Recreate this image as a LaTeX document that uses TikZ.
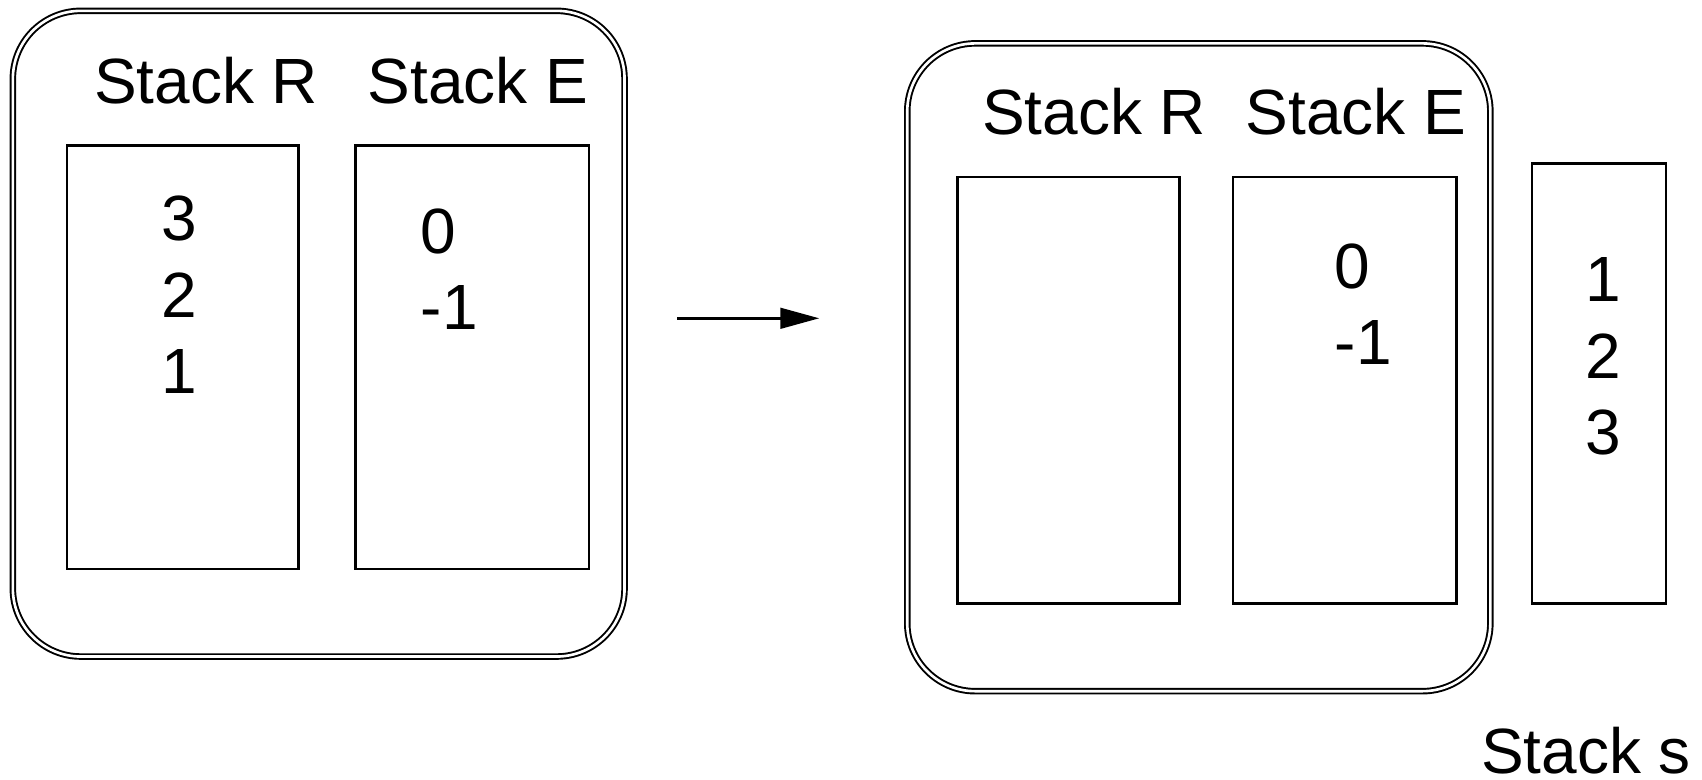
\documentclass[tikz,border=0pt]{standalone}
\usepackage{fontspec}
\setmainfont{Liberation Sans}
\usetikzlibrary{positioning,arrows.meta}

\begin{document}
\begin{tikzpicture}[>={Triangle[length=0.39cm,width=0.206cm]},
  font=\fontsize{18.2}{21.9}\selectfont,
  frame/.style={draw,line width=0.55pt,double,double distance=0.75pt,rounded corners=0.68cm},
  stackbox/.style={draw,line width=0.7pt},
  caption/.style={inner sep=0pt,anchor=base},
  items/.style={inner sep=0pt,anchor=base,align=center}]
\useasboundingbox (0,0) rectangle (17.02,-7.80);

% state before
\node[frame,minimum width=6.117cm,minimum height=6.457cm] (frameL) at (3.187,-3.337) {};
\node[stackbox,minimum width=2.316cm,minimum height=4.237cm,below right=1.342cm and 0.539cm of frameL.north west] (boxLR) {};
\node[stackbox,minimum width=2.333cm,minimum height=4.237cm,right=0.545cm of boxLR] (boxLE) {};
\node[caption] (capLR) at (2.06,-1.04) {Stack R};
\node[caption] (capLE) at (4.78,-1.04) {Stack E};
\node[items] (itemsLR) at (1.795,-3.94) {3\\2\\1};
\node[items,align=left,anchor=base west] (itemsLE) at (4.20,-3.30) {0\\-1};

% step
\coordinate (arrowtail) at (6.773,-3.183);
\coordinate (arrowtip) at (8.193,-3.183);
\draw[->,line width=0.8pt] (arrowtail) -- (arrowtip);

% state after
\node[frame,minimum width=5.831cm,minimum height=6.478cm] (frameR) at (11.988,-3.673) {};
\node[stackbox,minimum width=2.217cm,minimum height=4.266cm,below right=1.333cm and 0.501cm of frameR.north west] (boxRR) {};
\node[stackbox,minimum width=2.239cm,minimum height=4.266cm,right=0.51cm of boxRR] (boxRE) {};
\node[stackbox,minimum width=1.337cm,minimum height=4.40cm,above right=0cm and 0.73cm of boxRE.south east] (boxS) {};
\node[caption] (capRR) at (10.94,-1.35) {Stack R};
\node[caption] (capRE) at (13.56,-1.35) {Stack E};
\node[items,align=left,anchor=base west] (itemsRE) at (13.34,-3.65) {0\\-1};
\node[items] (itemsS) at (16.03,-4.55) {1\\2\\3};
\node[caption,text depth=0pt] (capS) at (15.86,-7.74) {Stack s};
\end{tikzpicture}
\end{document}
